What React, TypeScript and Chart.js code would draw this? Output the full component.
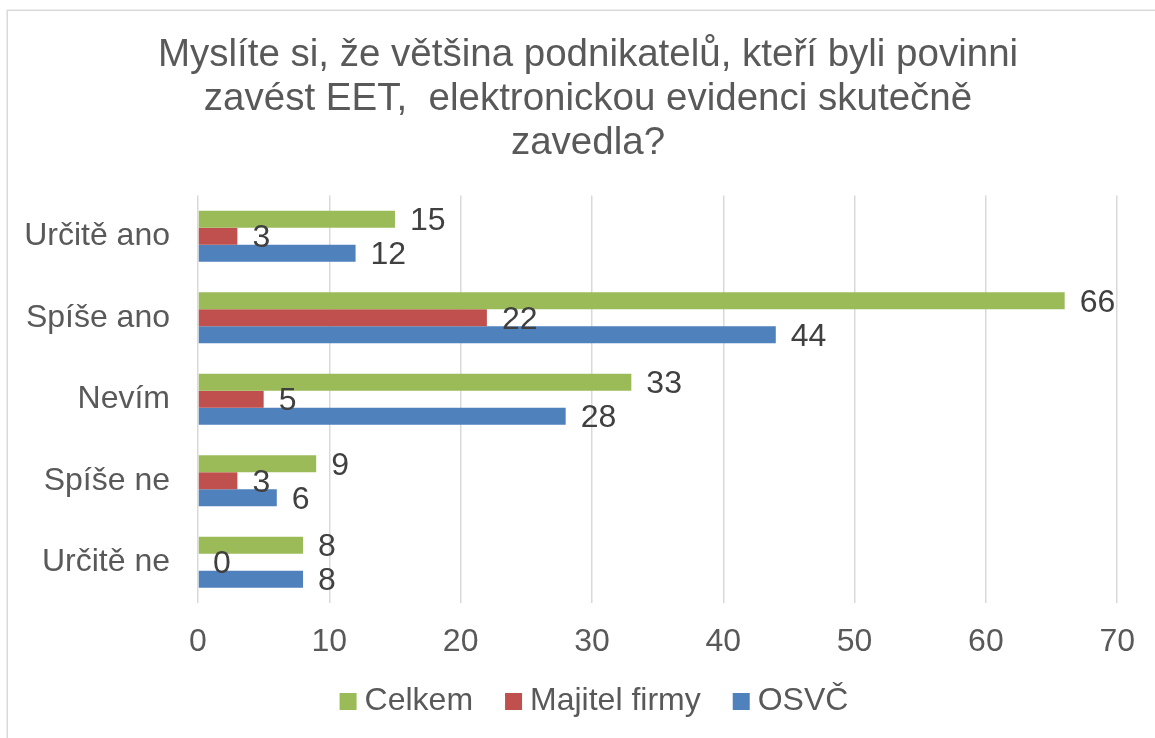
import React, { useEffect, useRef } from "react";
import { Chart, registerables } from "chart.js";

Chart.register(...registerables);

const TITLE_LINES = [
  "Myslíte si, že většina podnikatelů, kteří byli povinni",
  "zavést EET,  elektronickou evidenci skutečně",
  "zavedla?",
];
const CATEGORIES = ["Určitě ano", "Spíše ano", "Nevím", "Spíše ne", "Určitě ne"];
const SERIES_NAMES = ["Celkem", "Majitel firmy", "OSVČ"];
const CELKEM = [15, 66, 33, 9, 8];
const MAJITEL_FIRMY = [3, 22, 5, 3, 0];
const OSVC = [12, 44, 28, 6, 8];
const X_MIN = 0;
const X_MAX = 70;
const X_STEP = 10;
const COLORS = ["#9BBB59", "#C0504D", "#4F81BD"];

const FONT = "'Liberation Sans', Arial, sans-serif";
const TEXT_GREY = "#595959";
const LABEL_DARK = "#404040";

const framePlugin = {
  id: "frame",
  beforeDraw(chart: any) {
    const ctx = chart.ctx;
    ctx.save();
    ctx.fillStyle = "#ffffff";
    ctx.fillRect(0, 0, chart.width, chart.height);
    ctx.strokeStyle = "#d9d9d9";
    ctx.lineWidth = 1.5;
    ctx.beginPath();
    ctx.moveTo(7.25, chart.height);
    ctx.lineTo(7.25, 10.25);
    ctx.lineTo(chart.width, 10.25);
    ctx.stroke();
    ctx.restore();
  },
};

const titlePlugin = {
  id: "customTitle",
  afterDraw(chart: any) {
    const ctx = chart.ctx;
    ctx.save();
    ctx.fillStyle = TEXT_GREY;
    ctx.font = `38.5px ${FONT}`;
    ctx.textAlign = "center";
    ctx.textBaseline = "alphabetic";
    const baselines = [66, 110, 154];
    TITLE_LINES.forEach((line, i) => {
      ctx.fillText(line, 588, baselines[i]);
    });
    ctx.restore();
  },
};

const dataLabelPlugin = {
  id: "dataLabels",
  afterDatasetsDraw(chart: any) {
    const ctx = chart.ctx;
    ctx.save();
    ctx.fillStyle = LABEL_DARK;
    ctx.font = `32px ${FONT}`;
    ctx.textAlign = "left";
    ctx.textBaseline = "middle";
    chart.data.datasets.forEach((ds: any, di: number) => {
      const meta = chart.getDatasetMeta(di);
      meta.data.forEach((bar: any, i: number) => {
        const v = ds.data[i];
        ctx.fillText(String(v), bar.x + 15, bar.y + 2);
      });
    });
    ctx.restore();
  },
};

const legendPlugin = {
  id: "customLegend",
  afterDraw(chart: any) {
    const ctx = chart.ctx;
    ctx.save();
    ctx.font = `32px ${FONT}`;
    ctx.textBaseline = "middle";
    ctx.textAlign = "left";
    const box = 17;
    const gapBoxText = 8;
    const itemGap = 32;
    const widths = chart.data.datasets.map(
      (ds: any) => box + gapBoxText + ctx.measureText(ds.label).width
    );
    const total =
      widths.reduce((a: number, b: number) => a + b, 0) +
      itemGap * (widths.length - 1);
    let x = 594 - total / 2;
    const cy = 701.5;
    chart.data.datasets.forEach((ds: any, i: number) => {
      ctx.fillStyle = ds.backgroundColor;
      ctx.fillRect(x, cy - box / 2, box, box);
      ctx.fillStyle = TEXT_GREY;
      ctx.fillText(ds.label, x + box + gapBoxText, cy);
      x += widths[i] + itemGap;
    });
    ctx.restore();
  },
};

export default function App() {
  const canvasRef = useRef<HTMLCanvasElement | null>(null);

  useEffect(() => {
    if (!canvasRef.current) return;
    const seriesValues = [CELKEM, MAJITEL_FIRMY, OSVC];
    const chart = new Chart(canvasRef.current, {
      type: "bar",
      data: {
        labels: CATEGORIES,
        datasets: SERIES_NAMES.map((name, i) => ({
          label: name,
          data: seriesValues[i],
          backgroundColor: COLORS[i],
          borderWidth: 0,
          categoryPercentage: 0.627,
          barPercentage: 1,
        })),
      },
      options: {
        indexAxis: "y",
        animation: false,
        responsive: true,
        maintainAspectRatio: false,
        layout: { padding: { top: 195.5, right: 35, bottom: 0, left: 0 } },
        plugins: {
          legend: { display: false },
          title: { display: false },
          tooltip: { enabled: false },
        },
        scales: {
          x: {
            type: "linear",
            position: "bottom",
            min: X_MIN,
            max: X_MAX,
            ticks: {
              stepSize: X_STEP,
              color: TEXT_GREY,
              font: { family: FONT, size: 32 },
              padding: 20,
            },
            grid: {
              color: "#d9d9d9",
              lineWidth: 1.5,
              drawTicks: false,
            },
            border: { display: false },
            afterFit(scale: any) {
              scale.height = 135;
            },
          },
          y: {
            type: "category",
            ticks: {
              color: TEXT_GREY,
              font: { family: FONT, size: 32 },
              padding: 28,
            },
            grid: { display: false, drawTicks: false },
            border: { display: false },
            afterFit(scale: any) {
              scale.width = 198;
            },
          },
        },
      },
      plugins: [framePlugin, titlePlugin, dataLabelPlugin, legendPlugin],
    } as any);
    return () => chart.destroy();
  }, []);

  return (
    <div
      style={{
        position: "absolute",
        left: 0,
        top: 0,
        width: 1155,
        height: 738,
        background: "#ffffff",
      }}
    >
      <canvas ref={canvasRef} />
    </div>
  );
}
